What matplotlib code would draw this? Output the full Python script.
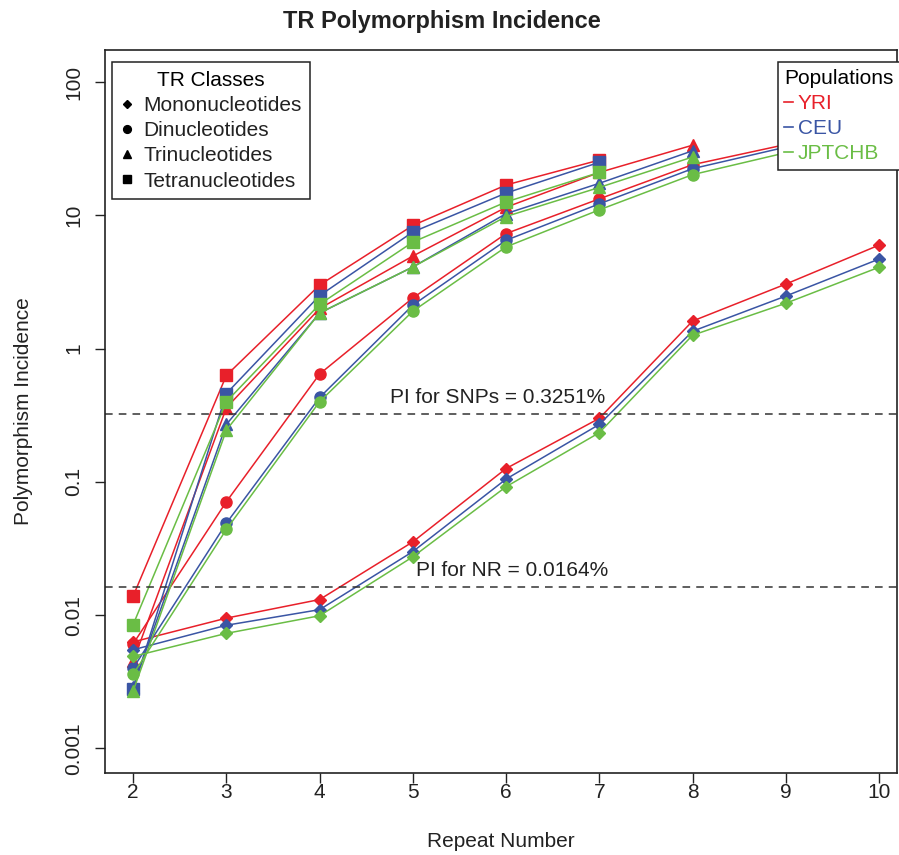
import matplotlib.pyplot as plt
from matplotlib.lines import Line2D

plt.rcParams["font.family"] = ["Liberation Sans", "DejaVu Sans"]

# repeat numbers per TR class
x_mono = [2, 3, 4, 5, 6, 7, 8, 9, 10]
x_di = [2, 3, 4, 5, 6, 7, 8, 9]
x_tri = [2, 3, 4, 5, 6, 7, 8]
x_tetra = [2, 3, 4, 5, 6, 7]

# polymorphism incidence (%)
mono_yri = [0.0063, 0.0095, 0.0131, 0.0355, 0.126, 0.30, 1.61, 3.05, 5.98]
mono_ceu = [0.0055, 0.0084, 0.0110, 0.030, 0.105, 0.27, 1.35, 2.48, 4.7]
mono_jpt = [0.0049, 0.0073, 0.0099, 0.0274, 0.092, 0.234, 1.26, 2.19, 4.08]

di_yri = [0.0061, 0.071, 0.645, 2.4, 7.3, 13.3, 24, 34]
di_ceu = [0.0040, 0.049, 0.43, 2.12, 6.5, 12.2, 22.4, 32.5]
di_jpt = [0.0036, 0.044, 0.40, 1.91, 5.8, 11.0, 20.2, 29.5]

tri_yri = [0.0045, 0.36, 2.0, 4.95, 11.5, 21, 33.6]
tri_ceu = [0.0029, 0.27, 1.85, 4.1, 10.3, 17.4, 30.5]
tri_jpt = [0.0027, 0.245, 1.85, 4.1, 9.8, 16.2, 27.4]

tetra_yri = [0.0139, 0.63, 3.0, 8.4, 16.9, 26]
tetra_ceu = [0.0028, 0.46, 2.5, 7.5, 14.7, 25]
tetra_jpt = [0.0085, 0.40, 2.15, 6.3, 12.6, 21]

pi_snp = 0.3251
pi_nr = 0.0164

populations = ["YRI", "CEU", "JPTCHB"]
pop_colors = ["#E8202A", "#3A55A4", "#6ABD45"]
classes = ["Mononucleotides", "Dinucleotides", "Trinucleotides", "Tetranucleotides"]
class_markers = ["D", "o", "^", "s"]
class_sizes = [6.5, 8, 9, 8.5]

series = {
    "YRI": [(x_mono, mono_yri), (x_di, di_yri), (x_tri, tri_yri), (x_tetra, tetra_yri)],
    "CEU": [(x_mono, mono_ceu), (x_di, di_ceu), (x_tri, tri_ceu), (x_tetra, tetra_ceu)],
    "JPTCHB": [(x_mono, mono_jpt), (x_di, di_jpt), (x_tri, tri_jpt), (x_tetra, tetra_jpt)],
}

FS = 15
TXT = "#222222"

fig = plt.figure(figsize=(8.99, 8.55), dpi=100)
ax = fig.add_axes([0.117, 0.096, 0.8805, 0.8455])

for pop, color in zip(populations, pop_colors):
    for (xs, ys), m, ms in zip(series[pop], class_markers, class_sizes):
        ax.plot(xs, ys, color=color, lw=1.1, marker=m, ms=ms, mec=color, mfc=color)

ax.axhline(pi_snp, color="#333333", ls=(0, (5, 4)), lw=1.1)
ax.axhline(pi_nr, color="#333333", ls=(0, (5, 4)), lw=1.1)
ax.text(5.91, pi_snp * 1.12, "PI for SNPs = 0.3251%", ha="center", va="bottom",
        fontsize=FS, color=TXT)
ax.text(6.07, pi_nr * 1.12, "PI for NR = 0.0164%", ha="center", va="bottom",
        fontsize=FS, color=TXT)

ax.set_yscale("log")
ax.set_xlim(1.70, 10.19)
ax.set_ylim(0.000655, 174)
ax.set_xticks(range(2, 11))
yticks = [0.001, 0.01, 0.1, 1, 10, 100]
ax.set_yticks(yticks)
ax.set_yticklabels(["0.001", "0.01", "0.1", "1", "10", "100"], rotation=90, va="center")
ax.minorticks_off()
ax.tick_params(axis="both", direction="out", length=7, width=1, labelsize=FS,
               colors=TXT)
ax.tick_params(axis="x", pad=0)
ax.tick_params(axis="y", pad=9)
for sp in ax.spines.values():
    sp.set_linewidth(1.2)
    sp.set_color(TXT)

ax.set_xlabel("Repeat Number", fontsize=FS, labelpad=22, color=TXT)
ax.set_ylabel("Polymorphism Incidence", fontsize=FS, labelpad=22, color=TXT)
fig.text(0.492, 0.975, "TR Polymorphism Incidence", fontsize=17, fontweight="bold",
         ha="center", va="center", color=TXT)

class_handles = [Line2D([], [], ls="", marker=m, color="black", ms=s * 0.7)
                 for m, s in zip(class_markers, class_sizes)]
leg1 = ax.legend(class_handles, classes, title="TR Classes", loc="upper left",
                 bbox_to_anchor=(0.009, 0.983), borderaxespad=0, fancybox=False,
                 edgecolor=TXT, framealpha=1, fontsize=FS, title_fontsize=FS,
                 handlelength=0.6, handletextpad=0.5, labelspacing=0.3,
                 borderpad=0.4)
leg1.get_frame().set_linewidth(1.1)
for t in leg1.get_texts():
    t.set_color(TXT)
ax.add_artist(leg1)

pop_handles = [Line2D([], [], color=c, lw=1.2) for c in pop_colors]
leg2 = ax.legend(pop_handles, populations, title="Populations", loc="upper right",
                 bbox_to_anchor=(1.004, 0.983), borderaxespad=0, fancybox=False,
                 edgecolor=TXT, framealpha=1, fontsize=FS, title_fontsize=FS,
                 handlelength=0.4, handletextpad=0.25, labelspacing=0.3,
                 borderpad=0.3, labelcolor=pop_colors)
leg2.get_frame().set_linewidth(1.1)
leg2._legend_box.align = "left"

fig.savefig("out.png", dpi=100)
